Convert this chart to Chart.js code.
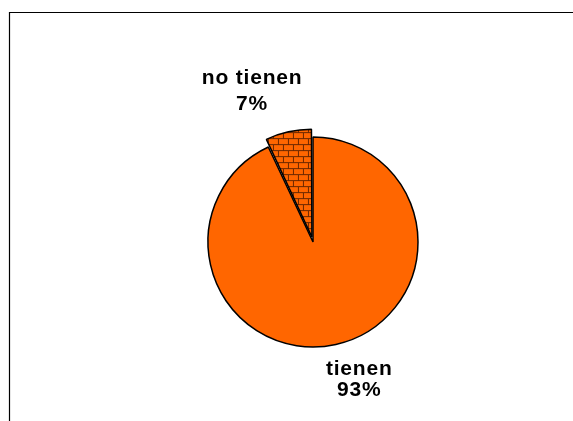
<!DOCTYPE html>
<html>
<head>
<meta charset="utf-8">
<script src="https://cdn.jsdelivr.net/npm/chart.js@4/dist/chart.umd.min.js"></script>
<style>
  html, body { margin: 0; padding: 0; background: #fff; }
  #wrap { position: relative; width: 573px; height: 421px; }
</style>
</head>
<body>
<div id="wrap"><canvas id="c" width="573" height="421"></canvas></div>
<script>
const categories = ["tienen", "no tienen"];
const values = [93, 7];
const percentLabels = ["93%", "7%"];

function brickPattern() {
  const p = document.createElement('canvas');
  p.width = 10; p.height = 12;
  const g = p.getContext('2d');
  g.fillStyle = '#FF6600';
  g.fillRect(0, 0, 10, 12);
  g.fillStyle = '#6B2800';
  g.fillRect(0, 5, 10, 1);
  g.fillRect(0, 11, 10, 1);
  g.fillRect(9, 0, 1, 5);
  g.fillRect(4, 6, 1, 5);
  return document.getElementById('c').getContext('2d').createPattern(p, 'repeat');
}

const framePlugin = {
  id: 'frame',
  beforeDraw(chart) {
    const ctx = chart.ctx;
    ctx.save();
    ctx.strokeStyle = '#000';
    ctx.lineWidth = 1.2;
    ctx.beginPath();
    ctx.moveTo(9.5, 421);
    ctx.lineTo(9.5, 12.5);
    ctx.lineTo(573, 12.5);
    ctx.stroke();
    ctx.restore();
  }
};

// label anchor as multiples of radius relative to pie centre: [dx, dy of first baseline, line gap]
const labelPlacement = [
  { dx: 0.44, dy: 1.27, gap: 21 },
  { dx: -0.58, dy: -1.503, gap: 26 }
];

const labelPlugin = {
  id: 'sliceLabels',
  afterDraw(chart) {
    const meta = chart.getDatasetMeta(0);
    const ctx = chart.ctx;
    const main = meta.data[0];
    const cx = main.x, cy = main.y, r = main.outerRadius;
    ctx.save();
    ctx.fillStyle = '#000';
    ctx.font = 'bold 21px "Liberation Sans", Arial, sans-serif';
    ctx.textAlign = 'center';
    ctx.textBaseline = 'alphabetic';
    try { ctx.letterSpacing = '0.8px'; } catch (e) {}
    categories.forEach((cat, i) => {
      const pl = labelPlacement[i];
      const x = cx + pl.dx * r;
      const y = cy + pl.dy * r;
      ctx.fillText(cat, x, y);
      ctx.fillText(percentLabels[i], x, y + pl.gap);
    });
    ctx.restore();
  }
};

new Chart(document.getElementById('c'), {
  type: 'pie',
  data: {
    labels: categories,
    datasets: [{
      data: values,
      backgroundColor: ['#FF6600', brickPattern()],
      borderColor: '#000000',
      borderWidth: 1.5,
      offset: [0, 20],
      radius: 105
    }]
  },
  options: {
    responsive: false,
    animation: false,
    layout: { padding: { left: 60, right: 7, top: 70, bottom: 7 } },
    plugins: {
      legend: { display: false },
      tooltip: { enabled: false }
    }
  },
  plugins: [framePlugin, labelPlugin]
});
</script>
</body>
</html>
